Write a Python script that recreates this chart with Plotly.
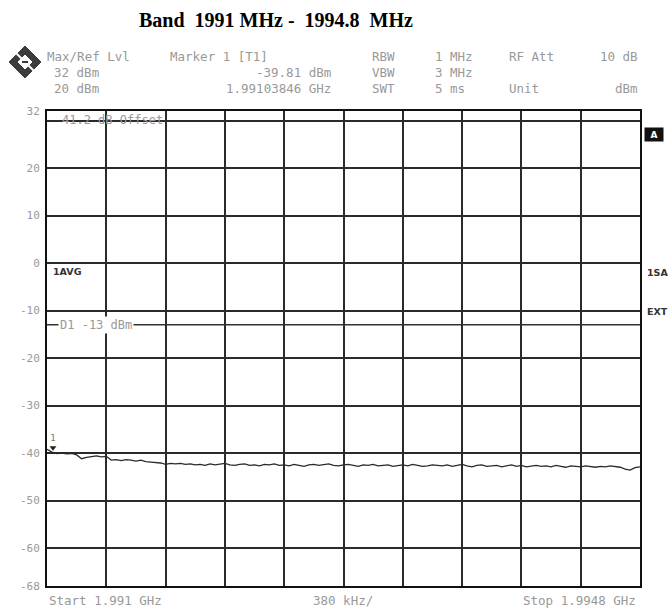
import numpy as np
import plotly.graph_objects as go

# Sweep settings (MHz) and measured trace (dBm)
f_start = 1991.0
f_stop = 1994.8
level_dbm = [
    -39.2, -39.8, -40.1, -40.0, -40.2, -40.1, -40.4, -41.2, -40.9, -40.7,
    -40.6, -40.8, -40.7, -41.5, -41.4, -41.6, -41.4, -41.5, -41.7, -41.5,
    -41.8, -41.9, -42.0, -42.1, -42.4, -42.2, -42.3, -42.2, -42.4, -42.3,
    -42.5, -42.4, -42.6, -42.3, -42.5, -42.4, -42.2, -42.5, -42.6, -42.4,
    -42.3, -42.6, -42.5, -42.7, -42.4, -42.5, -42.3, -42.6, -42.5, -42.7,
    -42.4, -42.6, -42.8, -42.5, -42.4, -42.6, -42.5, -42.3, -42.6, -42.7,
    -42.5, -42.4, -42.6, -42.8, -42.5, -42.6, -42.4, -42.7, -42.6, -42.5,
    -42.8, -42.6, -42.5, -42.7, -42.4, -42.6, -42.8, -42.7, -42.5, -42.6,
    -42.7, -42.5, -42.8, -42.6, -42.4, -42.7, -42.9, -42.6, -42.5, -42.8,
    -42.7, -42.6, -42.9, -42.7, -42.5, -42.8, -42.6, -42.9, -42.7, -42.6,
    -42.8, -42.7, -42.9, -42.6, -42.8, -43.0, -42.7, -42.8, -42.9, -42.7,
    -42.8, -43.0, -42.8, -42.9, -42.7, -42.9, -43.0, -43.4, -43.6, -43.1,
    -42.9,
]
freq_mhz = np.linspace(f_start, f_stop, len(level_dbm))

# Marker 1 and display line
marker_freq = 1991.03846
marker_level = -39.81
display_line = -13
offset_db = 41.2

# Axis scale
ref_top = 32
ref_bottom = -68
y_ticks = [32, 30, 20, 10, 0, -10, -20, -30, -40, -50, -60, -68]
y_ticklabels = ["32", "", "20", "10", "0", "-10", "-20", "-30", "-40", "-50", "-60", "-68"]
span_per_div = 0.38
x_ticks = [f_start + span_per_div * k for k in range(11)]

W, H = 669, 613
L, R, T, B = 47, 29, 111, 27
PW, PH = W - L - R, H - T - B

def px(x):
    return (x - L) / PW

def py(y):
    return (H - B - y) / PH

GRAY = "#999999"
MONO = "DejaVu Sans Mono"

fig = go.Figure()

fig.add_trace(go.Scatter(
    x=freq_mhz, y=level_dbm, mode="lines",
    line=dict(color="#2a2a2a", width=1.3), hoverinfo="skip", showlegend=False,
))
fig.add_trace(go.Scatter(
    x=[marker_freq], y=[marker_level + 0.9], mode="markers+text",
    marker=dict(symbol="triangle-down", size=6, color="#222"),
    text=["1"], textposition="top center",
    textfont=dict(family=MONO, size=9, color="#777"),
    hoverinfo="skip", showlegend=False,
))

# Display line D1
fig.add_shape(type="line", xref="x", yref="y", x0=f_start, x1=f_stop,
              y0=display_line, y1=display_line, line=dict(color="#333", width=1.5))

ann = []

def txt(x, y, s, size=12.5, color=GRAY, anchor="left", bold=False, bg=None, family=MONO):
    d = dict(x=px(x), y=py(y), xref="paper", yref="paper", text=s, showarrow=False,
             xanchor=anchor, yanchor="middle",
             font=dict(family=family, size=size, color=color,
                       weight="bold" if bold else "normal"))
    if bg:
        d["bgcolor"] = bg
    ann.append(d)

# Header block
txt(45, 56, "Max/Ref Lvl")
txt(52, 73, "32 dBm")
txt(52, 89, "20 dBm")
txt(168, 56, "Marker 1 [T1]")
txt(333, 73, f"{marker_level:.2f} dBm", anchor="right")
txt(333, 89, f"{marker_freq / 1000:.8f} GHz", anchor="right")
txt(370, 56, "RBW")
txt(370, 73, "VBW")
txt(370, 89, "SWT")
txt(433, 56, "1 MHz")
txt(433, 73, "3 MHz")
txt(433, 89, "5 ms")
txt(507, 56, "RF Att")
txt(507, 89, "Unit")
txt(640, 56, "10 dB", anchor="right")
txt(640, 89, "dBm", anchor="right")

# Labels inside the grid
txt(60, 120, f"{offset_db} dB Offset", size=12)
txt(58, 263 + 13 * 4.75, f"D1 {display_line} dBm", size=12, bg="white")
txt(51, 271, "1AVG", size=9.5, color="#333", bold=True, family="DejaVu Sans")

# Right-side status labels
ann.append(dict(x=px(654), y=py(134), xref="paper", yref="paper", text="A",
                showarrow=False, xanchor="center", yanchor="middle",
                font=dict(family="DejaVu Sans", size=9, color="white", weight="bold"),
                bgcolor="#111", borderpad=1, width=16, height=11))
txt(645, 272, "1SA", size=9.5, color="#333", bold=True, family="DejaVu Sans")
txt(645, 311, "EXT", size=9.5, color="#333", bold=True, family="DejaVu Sans")

# Bottom line
txt(47, 600, f"Start {f_start / 1000:.3f} GHz")
txt(343, 600, f"{span_per_div * 1000:.0f} kHz/", anchor="center")
txt(638, 600, f"Stop {f_stop / 1000:.4f} GHz", anchor="right")

# Title
ann.append(dict(x=px(276), y=py(20), xref="paper", yref="paper",
                text="Band\u00a0 1991 MHz -\u00a0 1994.8\u00a0 MHz", showarrow=False,
                xanchor="center", yanchor="middle",
                font=dict(family="Liberation Serif", size=20, color="black", weight="bold")))

# R&S logo
cx, cy, r = 25, 62, 16
fig.add_shape(type="path", xref="paper", yref="paper",
              path=f"M {px(cx - r)} {py(cy)} L {px(cx)} {py(cy - r)} L {px(cx + r)} {py(cy)} L {px(cx)} {py(cy + r)} Z",
              fillcolor="#3c3c3c", line=dict(color="#3c3c3c", width=1))
ri = 7
fig.add_shape(type="path", xref="paper", yref="paper",
              path=f"M {px(cx - ri)} {py(cy)} L {px(cx)} {py(cy - ri)} L {px(cx + ri)} {py(cy)} L {px(cx)} {py(cy + ri)} Z",
              fillcolor="white", line=dict(color="white", width=1))
fig.add_shape(type="line", xref="paper", yref="paper",
              x0=px(cx - 9), y0=py(cy - 9), x1=px(cx + 9), y1=py(cy + 9),
              line=dict(color="white", width=2))
fig.add_shape(type="line", xref="paper", yref="paper",
              x0=px(cx - 3), y0=py(cy), x1=px(cx + 3), y1=py(cy),
              line=dict(color="#3c3c3c", width=2))

fig.update_layout(
    width=W, height=H,
    margin=dict(l=L, r=R, t=T, b=B, pad=0),
    paper_bgcolor="white", plot_bgcolor="white",
    showlegend=False,
    annotations=ann,
    xaxis=dict(range=[f_start, f_stop], tickvals=x_ticks, showticklabels=False,
               showgrid=True, gridcolor="#2b2b2b", gridwidth=1.6,
               showline=True, linecolor="#111", linewidth=2, mirror=True,
               zeroline=False, ticks=""),
    yaxis=dict(range=[ref_bottom, ref_top], tickvals=y_ticks, ticktext=y_ticklabels,
               showgrid=True, gridcolor="#2b2b2b", gridwidth=1.6,
               showline=True, linecolor="#111", linewidth=2, mirror=True,
               zeroline=False, ticks="", ticklabelstandoff=3,
               tickfont=dict(family=MONO, size=11, color=GRAY)),
)

fig.write_html("out.html")
